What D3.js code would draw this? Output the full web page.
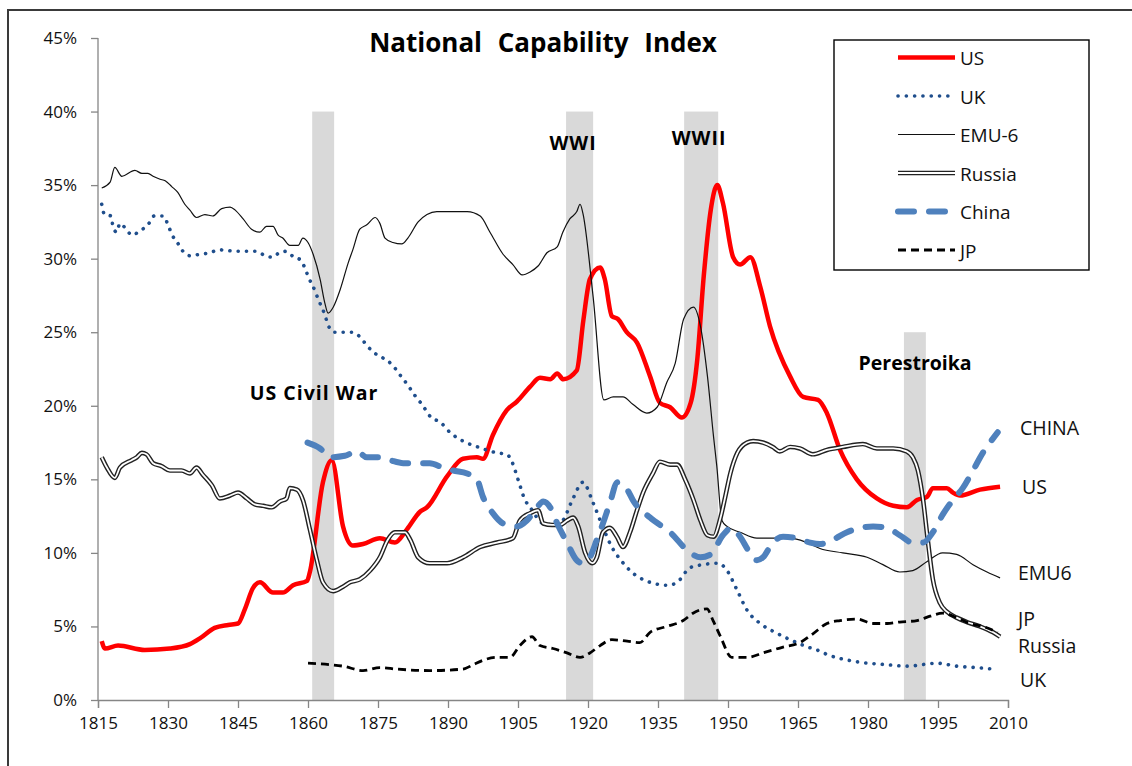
<!DOCTYPE html>
<html>
<head>
<meta charset="utf-8">
<script src="https://cdn.jsdelivr.net/npm/d3@7"></script>
<style>
  body { margin: 0; background: #fff; }
  text { font-family: "Open Sans", "Noto Sans", sans-serif; }
</style>
</head>
<body>
<svg id="chart" width="1132" height="766"></svg>
<script>
// values: [year, percent]
const US = [[1815.8,4.0],[1816.5,3.5],[1819.3,3.7],[1825,3.4],[1830.4,3.5],[1834.7,3.8],[1836.9,4.2],[1840,4.9],[1842.9,5.1],[1845,5.2],[1846.5,6.2],[1848.2,7.6],[1849.7,8.0],[1852.5,7.3],[1854.6,7.3],[1856.8,7.8],[1859.8,8.1],[1860.4,8.7],[1863.2,14.8],[1865.1,16.3],[1867.5,11.8],[1869.6,10.5],[1871.8,10.6],[1875.4,11.0],[1878.6,10.7],[1881.2,11.6],[1884,12.8],[1885.5,13.1],[1889.8,15.2],[1893.2,16.4],[1896.2,16.5],[1897.5,16.4],[1899.6,18.0],[1902.6,19.7],[1904.8,20.3],[1907.6,21.3],[1909.7,21.9],[1911.9,21.8],[1913.4,22.2],[1914.7,21.8],[1917.6,22.4],[1919,25.8],[1920.4,28.6],[1922.6,29.4],[1923.6,28.6],[1925.1,26.1],[1926.4,25.9],[1928.3,25.0],[1930.5,24.3],[1933.3,22.0],[1935.4,20.2],[1937.6,19.9],[1940.1,19.2],[1942,20.2],[1943.4,23.1],[1944.8,28.8],[1946.3,33.3],[1947.7,35.0],[1948.9,33.8],[1951.1,30.1],[1952.6,29.6],[1954.8,30.1],[1956.9,28.1],[1959,25.4],[1963.3,22.0],[1966.1,20.6],[1969.3,20.4],[1971.2,19.5],[1974,17.0],[1977.6,15.0],[1981.9,13.7],[1985.4,13.2],[1988.3,13.1],[1990.5,13.6],[1992.6,13.8],[1993.9,14.4],[1996.9,14.4],[1998.2,14.1],[1999.7,13.9],[2004,14.3],[2008.3,14.5]];

const UK = [[1815.8,33.7],[1816.4,33.0],[1817.8,32.9],[1818.2,32.2],[1819,31.8],[1819.7,32.4],[1820.8,32.1],[1822.3,31.6],[1824,31.9],[1825.7,32.3],[1827,32.9],[1829,32.9],[1830,32.3],[1830.9,31.6],[1832,31.1],[1833.2,30.5],[1834.7,30.2],[1836.9,30.3],[1839,30.4],[1840.9,30.6],[1845,30.5],[1849,30.5],[1850.8,30.2],[1852.5,30.1],[1853.8,30.4],[1855.3,30.5],[1857,30.1],[1858.5,29.9],[1859.4,29.3],[1860.3,28.6],[1861.1,28.1],[1862,27.4],[1862.8,26.8],[1863.6,26.2],[1864.3,25.5],[1865.6,25.0],[1869.4,25.0],[1871.1,24.7],[1872.6,24.1],[1874.2,23.6],[1875.8,23.3],[1878,22.8],[1879.7,22.1],[1881.4,21.4],[1882.9,20.7],[1884.4,20.1],[1886.4,19.2],[1888.3,18.9],[1890.4,18.2],[1893.2,17.6],[1896.4,17.2],[1900.5,16.8],[1902.6,16.7],[1903.7,16.2],[1905,15.0],[1906.5,13.6],[1907.6,13.1],[1910.4,12.0],[1913.4,11.9],[1914.6,12.2],[1916.8,13.7],[1918.9,14.8],[1921.1,13.4],[1923,11.9],[1925.1,10.4],[1927.3,9.4],[1929,8.8],[1933.3,8.0],[1937.1,7.8],[1939.1,8.0],[1941.9,9.0],[1944.6,9.2],[1947.9,9.3],[1949.8,8.8],[1951.9,7.5],[1954.1,6.1],[1956.9,5.2],[1960.1,4.6],[1963.3,4.1],[1967.1,3.6],[1969.1,3.4],[1971.2,3.1],[1977.6,2.6],[1984.1,2.4],[1988.3,2.3],[1994.8,2.5],[1999,2.3],[2003.4,2.2],[2006.8,2.1]];

const EMU6 = [[1815.8,34.8],[1817.6,35.2],[1818.6,36.2],[1820.1,35.6],[1822.9,36.0],[1824.4,35.8],[1825.7,35.8],[1826.8,35.6],[1828.3,35.4],[1829.4,35.3],[1830.8,34.9],[1832.1,34.5],[1833.6,33.7],[1834.7,33.3],[1836.1,32.8],[1837.9,33.0],[1839.6,32.9],[1841.5,33.4],[1843.3,33.5],[1844.4,33.3],[1846.1,32.7],[1847.9,32.0],[1849.7,31.8],[1851.1,32.2],[1852.5,32.2],[1853.6,31.6],[1854.6,31.4],[1856.1,30.9],[1857.9,30.9],[1858.9,31.4],[1860,31.1],[1861.1,30.3],[1862.6,28.6],[1863.6,27.0],[1864.3,26.3],[1865.4,26.7],[1866.9,27.9],[1868.6,29.7],[1869.6,30.6],[1871.1,32.0],[1872.6,32.3],[1874.4,32.8],[1875.4,32.4],[1876.5,31.4],[1878.2,31.1],[1880.1,31.0],[1881.4,31.4],[1883.6,32.5],[1885.5,33.0],[1887.6,33.2],[1891.1,33.2],[1894.1,33.2],[1896.9,32.9],[1899,31.8],[1901.8,30.3],[1903.9,29.6],[1905.9,28.9],[1907.6,29.1],[1909.3,29.5],[1911.2,30.4],[1913.4,30.8],[1914.6,31.8],[1916.1,32.7],[1917.6,33.2],[1918.3,33.7],[1918.9,33.1],[1921.1,27.4],[1923.4,20.4],[1925.4,20.6],[1927.5,20.6],[1929.6,20.1],[1932.6,19.5],[1934.8,19.9],[1936.9,21.6],[1938.7,22.9],[1940.5,25.9],[1942.6,26.7],[1944.1,25.4],[1945.6,22.0],[1946.9,17.9],[1947.6,15.9],[1948.7,12.2],[1949.8,11.8],[1952.6,11.4],[1956.2,11.0],[1959.6,11.0],[1963.3,11.0],[1966.9,10.7],[1969.7,10.3],[1974.6,10.0],[1979.8,9.7],[1983.2,9.2],[1986.8,8.7],[1989.6,8.8],[1992.6,9.4],[1996,10.0],[1999,9.9],[2002.5,9.2],[2005.5,8.7],[2008.3,8.3]];

const RUSSIA = [[1815.8,16.5],[1816.9,15.8],[1818.6,15.1],[1819.7,15.8],[1822.2,16.3],[1823.3,16.5],[1824.4,16.8],[1825.4,16.7],[1826.8,16.1],[1828.6,15.9],[1830.4,15.6],[1832.9,15.6],[1834.7,15.4],[1836.1,15.8],[1837.5,15.3],[1839.4,14.6],[1841.1,13.7],[1843.3,13.9],[1845,14.1],[1846.9,13.7],[1848.6,13.3],[1850.4,13.2],[1852.2,13.1],[1854,13.5],[1855.4,13.7],[1856.1,14.4],[1857.6,14.3],[1858.9,13.6],[1860.4,11.6],[1861.9,9.5],[1863.2,8.0],[1865.4,7.4],[1867.5,7.7],[1869,8.0],[1871.1,8.2],[1873.3,8.8],[1875.4,9.7],[1877.1,10.9],[1878.6,11.4],[1880.8,11.4],[1881.9,10.9],[1883.6,9.7],[1886.1,9.3],[1889.8,9.3],[1893.2,9.7],[1896.9,10.4],[1900.5,10.7],[1903.9,11.0],[1905.4,12.2],[1907.6,12.7],[1909.3,12.9],[1910.4,12.0],[1912.3,11.9],[1914,11.9],[1915.5,12.2],[1916.8,12.4],[1917.9,11.8],[1919.4,10.0],[1920.9,9.3],[1921.9,9.7],[1923.2,11.4],[1924.7,11.7],[1926.2,11.1],[1927.5,10.4],[1929,11.4],[1930.5,12.9],[1931.8,14.1],[1933.9,15.4],[1935.4,16.2],[1937.6,16.0],[1939.1,16.0],[1940.8,15.0],[1942.6,13.6],[1944.1,12.2],[1945.6,11.2],[1946.9,11.1],[1948.4,12.4],[1949.4,13.8],[1950.5,15.4],[1952,16.8],[1954.1,17.5],[1955.4,17.6],[1957.5,17.5],[1959.6,17.2],[1961.1,16.9],[1963.3,17.2],[1965.4,17.1],[1968.2,16.7],[1971.2,17.0],[1974.6,17.2],[1978.9,17.4],[1981.9,17.1],[1985.4,17.1],[1988.3,16.9],[1989.6,16.5],[1990.7,15.6],[1991.8,13.6],[1992.8,10.9],[1993.9,8.2],[1995.4,6.6],[1996.9,6.0],[1999,5.6],[2001.2,5.3],[2004,5.0],[2006.8,4.6],[2008.3,4.3]];

const CHINA = [[1859.9,17.5],[1862.6,17.1],[1864.7,16.5],[1867.9,16.6],[1870.5,16.9],[1872.6,16.5],[1875.4,16.5],[1877.6,16.3],[1880.4,16.1],[1886.1,16.1],[1888.9,15.8],[1891.1,15.6],[1894.1,15.4],[1896.2,15.0],[1897.5,13.8],[1899.6,12.7],[1901.8,12.0],[1904.8,11.8],[1906.9,12.2],[1909.1,13.1],[1910.4,13.5],[1911.9,13.1],[1913.4,12.0],[1915.5,10.7],[1917.6,9.5],[1918.9,9.3],[1920.4,9.7],[1921.9,10.9],[1923.2,12.0],[1924.7,13.4],[1926.3,14.8],[1928.6,14.2],[1929.6,13.6],[1933.3,12.4],[1937.6,11.4],[1941.9,10.0],[1944.1,9.7],[1946.3,9.9],[1948.9,11.2],[1950.8,11.7],[1952.6,11.1],[1954.3,10.2],[1956.2,9.5],[1957.5,9.7],[1959.6,10.7],[1961.8,11.1],[1964.8,11.0],[1967.6,10.7],[1969.7,10.6],[1972.5,10.9],[1975.5,11.4],[1978.3,11.7],[1981.1,11.8],[1984.1,11.7],[1986.8,11.2],[1989.6,10.7],[1991.8,10.7],[1993.9,11.4],[1996,12.6],[1998.2,13.6],[2000.3,14.4],[2002.5,15.6],[2004.6,16.8],[2006.6,17.7],[2007.8,18.2]];

const JP = [[1860,2.5],[1864.7,2.4],[1867.5,2.3],[1871.8,2.0],[1875.4,2.2],[1879,2.1],[1886.1,2.0],[1893.2,2.1],[1895.4,2.4],[1897.5,2.7],[1900.5,2.9],[1903.3,2.9],[1905.4,3.7],[1908,4.3],[1909.7,3.7],[1912.5,3.5],[1915.5,3.2],[1918.3,2.9],[1920.4,3.2],[1922.6,3.7],[1925.1,4.1],[1928.4,4.0],[1931.1,3.9],[1933.3,4.6],[1936.9,5.0],[1940.4,5.4],[1942.5,5.9],[1945.5,6.2],[1946.8,5.4],[1948.4,4.3],[1950.8,2.9],[1954.1,2.9],[1957.5,3.2],[1961.8,3.6],[1965.4,3.9],[1968.2,4.5],[1971.2,5.2],[1974,5.4],[1977.6,5.5],[1981.1,5.2],[1984.1,5.2],[1986.8,5.3],[1990.5,5.4],[1993.3,5.7],[1996,5.9],[1999,5.6],[2001.8,5.2],[2004.6,5.0],[2007.8,4.6]];

const yearTicks = d3.range(1815, 2011, 15);
const pctTicks = [0, 5, 10, 15, 20, 25, 30, 35, 40, 45];

// shaded periods: [label, start year, end year, band top %]
const periods = [
  ["US Civil War", 1860.9, 1865.6, 40],
  ["WWI", 1915.3, 1921.1, 40],
  ["WWII", 1940.6, 1947.9, 40],
  ["Perestroika", 1987.7, 1992.4, 25]
];

const legendNames = ["US", "UK", "EMU-6", "Russia", "China", "JP"];
const endLabels = ["CHINA", "US", "EMU6", "JP", "Russia", "UK"];

const svg = d3.select("#chart");
const x = d3.scaleLinear().domain([1815, 2010]).range([98, 1008]);
const y = d3.scaleLinear().domain([0, 45]).range([700, 38]);

// outer frame
svg.append("rect")
  .attr("x", 8).attr("y", 10).attr("width", 1140).attr("height", 780)
  .attr("fill", "none").attr("stroke", "#3a3a3a").attr("stroke-width", 2);

// bands
svg.append("g").selectAll("rect").data(periods).enter().append("rect")
  .attr("x", d => x(d[1]))
  .attr("width", d => x(d[2]) - x(d[1]))
  .attr("y", d => y(d[3]))
  .attr("height", d => y(0) - y(d[3]))
  .attr("fill", "#d9d9d9");

// axes
const yAxis = svg.append("g").attr("transform", "translate(98,0)")
  .call(d3.axisLeft(y).tickValues(pctTicks).tickSize(7).tickPadding(14).tickFormat(d => d + "%"));
const xAxis = svg.append("g").attr("transform", "translate(0,700)")
  .call(d3.axisBottom(x).tickValues(yearTicks).tickSize(8).tickPadding(9).tickFormat(d3.format("d")));
[yAxis, xAxis].forEach(a => {
  a.select(".domain").attr("stroke", "#868686").attr("stroke-width", 1.3);
  a.selectAll(".tick line").attr("stroke", "#868686").attr("stroke-width", 1.3);
  a.selectAll(".tick text").attr("fill", "#111").style("font-size", "17px");
});
yAxis.select(".domain").attr("d", "M0,38V700");

const line = d3.line().x(d => x(d[0])).y(d => y(d[1])).curve(d3.curveMonotoneX);

const g = svg.append("g").attr("fill", "none")
  .attr("stroke-linejoin", "round");

g.append("path").attr("d", line(US))
  .attr("stroke", "#ff0000").attr("stroke-width", 4.5);
g.append("path").attr("d", line(UK))
  .attr("stroke", "#1f4e8c").attr("stroke-width", 3.6)
  .attr("stroke-linecap", "round").attr("stroke-dasharray", "0.1 8.2");
g.append("path").attr("d", line(EMU6))
  .attr("stroke", "#111").attr("stroke-width", 1.2);
g.append("path").attr("d", line(RUSSIA))
  .attr("stroke", "#222").attr("stroke-width", 4.6);
g.append("path").attr("d", line(RUSSIA))
  .attr("stroke", "#fff").attr("stroke-width", 1.8);
g.append("path").attr("d", line(CHINA))
  .attr("stroke", "#4f81bd").attr("stroke-width", 6)
  .attr("stroke-linecap", "round").attr("stroke-dasharray", "16 15");
g.append("path").attr("d", line(JP))
  .attr("stroke", "#000").attr("stroke-width", 2.8)
  .attr("stroke-dasharray", "8 5");

// title
svg.append("text")
  .attr("x", 543).attr("y", 52).attr("text-anchor", "middle")
  .style("font-size", "26px").style("font-weight", "bold").style("word-spacing", "9px")
  .text("National Capability Index");

// period labels: [centre year, baseline y, letter spacing]
const periodLabelPos = [[1861.3, 400, 1], [1916.8, 150, 1], [1943.8, 145, 1], [1990.1, 370, 0]];
svg.append("g").selectAll("text").data(periods).enter().append("text")
  .attr("x", (d, i) => x(periodLabelPos[i][0]))
  .attr("y", (d, i) => periodLabelPos[i][1])
  .attr("text-anchor", "middle")
  .style("font-size", "19.5px").style("font-weight", "bold")
  .style("letter-spacing", (d, i) => periodLabelPos[i][2] + "px")
  .text(d => d[0]);

// right-side labels
const endLabelY = [435, 494, 580, 626, 653, 687];
const endLabelX = [1020, 1022, 1018, 1018, 1018, 1020];
svg.append("g").selectAll("text").data(endLabels).enter().append("text")
  .attr("x", (d, i) => endLabelX[i]).attr("y", (d, i) => endLabelY[i])
  .style("font-size", "19.5px").attr("fill", "#111")
  .text(d => d);

// legend
const lg = svg.append("g");
lg.append("rect").attr("x", 834).attr("y", 40).attr("width", 255).attr("height", 230)
  .attr("fill", "#fff").attr("stroke", "#000").attr("stroke-width", 1.4);
const rowY = i => 57.5 + i * 38.5;
const styles = [
  {stroke: "#ff0000", w: 4.5},
  {stroke: "#1f4e8c", w: 3.6, dash: "0.1 8.2", cap: "round"},
  {stroke: "#111", w: 1.2},
  {stroke: "#222", w: 4.6, inner: true},
  {stroke: "#4f81bd", w: 6, dash: "16 15", cap: "round"},
  {stroke: "#000", w: 2.8, dash: "8 5"}
];
legendNames.forEach((name, i) => {
  const s = styles[i];
  lg.append("line").attr("x1", 898).attr("x2", 955).attr("y1", rowY(i)).attr("y2", rowY(i))
    .attr("stroke", s.stroke).attr("stroke-width", s.w)
    .attr("stroke-dasharray", s.dash || null).attr("stroke-linecap", s.cap || "butt");
  if (s.inner) {
    lg.append("line").attr("x1", 898).attr("x2", 955).attr("y1", rowY(i)).attr("y2", rowY(i))
      .attr("stroke", "#fff").attr("stroke-width", 1.8);
  }
  lg.append("text").attr("x", 960).attr("y", rowY(i) + 7.5)
    .style("font-size", "19px").attr("fill", "#111").text(name);
});
</script>
</body>
</html>
